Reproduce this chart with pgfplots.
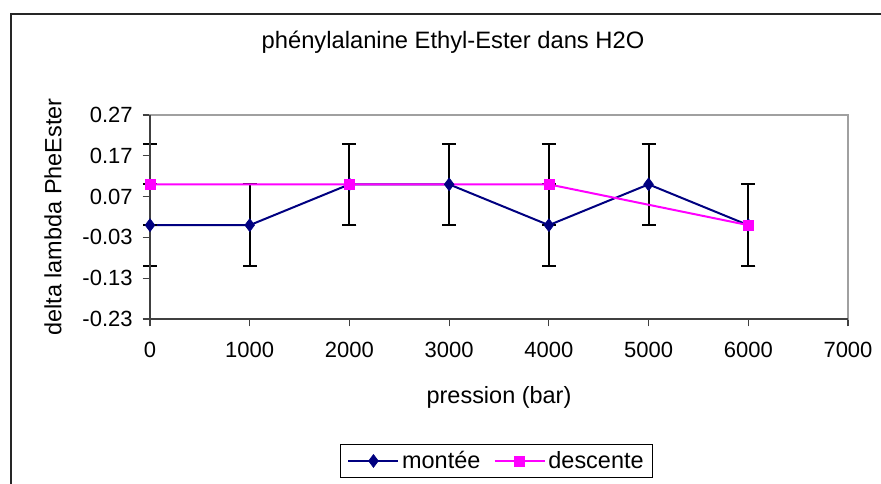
\documentclass[border=0pt]{standalone}
\usepackage{pgfplots}
\pgfplotsset{compat=1.18}
\usepackage{fontspec}
\setmainfont{Liberation Sans}
\definecolor{navyc}{HTML}{000080}
\definecolor{magc}{HTML}{FF00FF}
\definecolor{axdark}{HTML}{404040}
\definecolor{axgray}{HTML}{A0A0A0}
\begin{document}
\begin{tikzpicture}[x=0.75pt,y=0.75pt]
\begin{axis}[
  at={(0,0)}, anchor=south west,
  scale only axis, width=523.5pt, height=153pt,
  xmin=0, xmax=7000, ymin=-0.23, ymax=0.27,
  xtick={0,1000,2000,3000,4000,5000,6000,7000},
  ytick={-0.23,-0.13,-0.03,0.07,0.17,0.27},
  xtick pos=bottom, ytick pos=left,
  tick align=outside, major tick length=5.5pt,
  tick style={axdark, line width=0.9pt},
  axis line style={draw=axgray, line width=1.5pt},
  /pgf/number format/assume math mode=true,
  /pgf/number format/1000 sep={},
  yticklabel style={/pgf/number format/fixed, /pgf/number format/fixed zerofill, /pgf/number format/precision=2, xshift=-4pt},
  xticklabel style={yshift=-8.5pt},
  ticklabel style={font=\fontsize{16.5}{19}\selectfont},
  xlabel={pression (bar)},
  ylabel={delta lambda PheEster},
  xlabel style={at={(axis description cs:0.5,0)}, anchor=center, yshift=-58.5pt, font=\fontsize{17.6}{20}\selectfont},
  ylabel style={at={(axis description cs:0,0.5)}, anchor=center, xshift=0pt, yshift=72.75pt, font=\fontsize{17.6}{20}\selectfont},
  legend columns=2,
  legend style={at={(axis description cs:0.497,-0.696)}, anchor=center, draw=black, line width=0.75pt,
    font=\fontsize{17.6}{20}\selectfont, inner xsep=5pt, inner ysep=3pt,
    /tikz/every even column/.append style={column sep=8pt}},
  legend image code/.code={\draw[mark repeat=2,mark phase=2] plot coordinates {(0pt,0pt) (18.75pt,0pt) (37.5pt,0pt)};},
  clip=false,
]
\addplot[navyc, line width=1.5pt, mark=diamond*, mark size=4.8pt, mark options={solid, fill=navyc, draw=navyc, line width=0.5pt},
  error bars/.cd, y dir=both, y explicit,
  error bar style={black, line width=1.5pt},
  error mark options={rotate=90, mark size=5.25pt, black, line width=1.5pt}]
  coordinates {
  (0,0) +- (0,0.1)
  (1000,0) +- (0,0.1)
  (2000,0.1) +- (0,0.1)
  (3000,0.1) +- (0,0.1)
  (4000,0) +- (0,0.1)
  (5000,0.1) +- (0,0.1)
  (6000,0) +- (0,0.1)
  };
\addlegendentry{montée}
\addplot[magc, line width=1.5pt, mark=square*, mark size=3.75pt, mark options={solid, fill=magc, draw=magc, line width=0.5pt},
  error bars/.cd, y dir=both, y explicit,
  error bar style={black, line width=1.5pt},
  error mark options={rotate=90, mark size=5.25pt, black, line width=1.5pt}]
  coordinates {
  (0,0.1) +- (0,0.1)
  (2000,0.1) +- (0,0.1)
  (4000,0.1) +- (0,0.1)
  (6000,0) +- (0,0.1)
  };
\addlegendentry{descente}
\draw[axdark, line width=1.5pt] (rel axis cs:0,1) -- (rel axis cs:0,0) -- (rel axis cs:1,0);
\end{axis}
\node[font=\fontsize{17.8}{20}\selectfont, anchor=center] at (303,277) {phénylalanine Ethyl-Ester dans H2O};
\draw[black!85, line width=1.5pt] (-139,-200) -- (-139,305) -- (760,305);
\pgfresetboundingbox
\useasboundingbox (-150,-165) rectangle (731,319);
\end{tikzpicture}
\end{document}
